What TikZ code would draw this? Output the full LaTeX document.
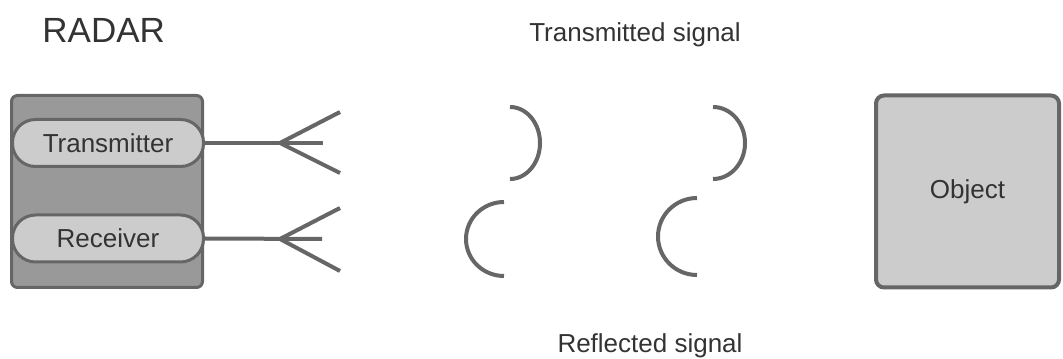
\documentclass[tikz,border=0pt]{standalone}
\usepackage{fontspec}
\setmainfont{Liberation Sans}
\usepackage{xcolor}
\usepackage{tikz}
\definecolor{edge}{HTML}{666666}
\definecolor{darkgray}{HTML}{999999}
\definecolor{lightgray}{HTML}{CCCCCC}
\definecolor{ink}{HTML}{333333}

\tikzset{
  label/.style={text=ink, inner sep=0pt, font=\fontsize{13}{15}\selectfont},
  unit/.style={draw=edge, line width=1.5pt, fill=lightgray, rounded corners=11.5pt,
        minimum width=95.5pt, minimum height=23.5pt, inner sep=0pt,
        text=ink, font=\fontsize{13}{15}\selectfont},
  housing/.style={draw=edge, line width=1.5pt, fill=darkgray, rounded corners=3pt,
        minimum width=95.5pt, minimum height=96pt},
  target/.style={draw=edge, line width=2pt, fill=lightgray, rounded corners=4pt,
        minimum width=91.5pt, minimum height=96pt, text=ink,
        font=\fontsize{13}{15}\selectfont},
  wire/.style={draw=edge, line width=2pt},
  wave/.style={draw=edge, line width=2pt}
}

\begin{document}
\begin{tikzpicture}[x=0.5pt, y=0.5pt]
  \useasboundingbox (0,0) rectangle (1063,358);

  % radar unit with its two parts
  \node[label, anchor=base west, font=\fontsize{17.5}{20}\selectfont] (title) at (42,315) {RADAR};
  \node[housing] (radar) at (107,166.5) {};
  \node[unit] (tx) at (108,215) {Transmitter};
  \node[unit] (rx) at (108,119.5) {Receiver};

  % antennas
  \coordinate (txstub) at (323,215);
  \coordinate (txfork) at (280,215);
  \coordinate (txup) at (340,246);
  \coordinate (txdown) at (340,185);
  \draw[wire] (tx.east) -- (txstub);
  \draw[wire] (txup) -- (txfork) -- (txdown);

  \coordinate (rxstub) at (322,119);
  \coordinate (rxfork) at (280,119);
  \coordinate (rxup) at (340,150);
  \coordinate (rxdown) at (340,87);
  \draw[wire] (rx.east) -- (rxstub);
  \draw[wire] (rxup) -- (rxfork) -- (rxdown);

  % outgoing wave fronts
  \draw[wave] (510,251) arc[start angle=90, end angle=-90, x radius=15pt, y radius=18pt];
  \draw[wave] (713,251) arc[start angle=90, end angle=-90, x radius=16pt, y radius=18pt];
  % echoes coming back
  \draw[wave] (504,156) arc[start angle=90, end angle=270, x radius=19pt, y radius=18.5pt];
  \draw[wave] (697,160) arc[start angle=90, end angle=270, x radius=19.5pt, y radius=19.25pt];

  \node[label, anchor=base] (sent) at (635,316) {Transmitted signal};
  \node[label, anchor=base] (echo) at (650,5) {Reflected signal};

  \node[target] (obj) at (967.5,166.5) {Object};
\end{tikzpicture}
\end{document}
